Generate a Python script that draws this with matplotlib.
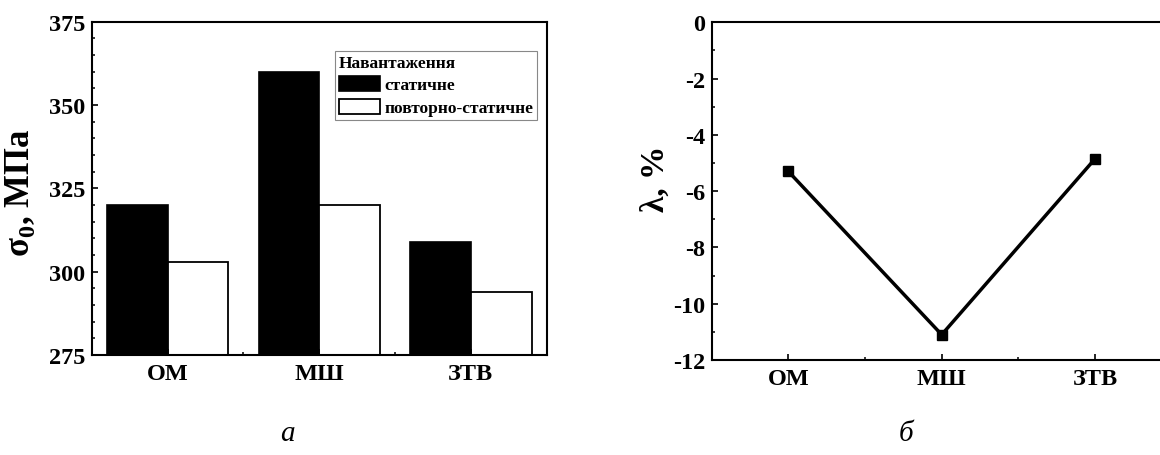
# -*- coding:utf-8 -*-
"""
Межа пружності при статичному та повторно-статичному навантаженні (а)
та відносна зміна lambda (б) для зон зварного з'єднання
"""

import matplotlib.pyplot as plt
import numpy as np
from matplotlib.ticker import MultipleLocator, FixedLocator

plt.rcParams['font.family'] = ['Liberation Serif', 'DejaVu Serif']
plt.rcParams['font.weight'] = 'bold'
plt.rcParams['axes.unicode_minus'] = False
plt.rcParams['mathtext.fontset'] = 'custom'
plt.rcParams['mathtext.rm'] = 'Liberation Serif:bold'
plt.rcParams['mathtext.bf'] = 'Liberation Serif:bold'

zones = ['ОМ', 'МШ', 'ЗТВ']
sigma_static = [320, 360, 309]
sigma_repeat = [303, 320, 294]
lam = [-5.3, -11.1, -4.85]

legend_title = 'Навантаження'
legend_labels = ['статичне', 'повторно-статичне']


def _style_axes(ax, **kwargs):
    tk_kwargs = dict(direction='in', length=4.5, width=1.2, labelsize=17.5, pad=4.5)
    tk_kwargs.update(kwargs)
    ax.tick_params(which='major', **tk_kwargs)
    ax.tick_params(which='minor', direction='in', length=2.5, width=1.1)
    ax.tick_params(axis='x', which='major', pad=6)
    for spine in ax.spines:
        ax.spines[spine].set_linewidth(1.5)
        ax.spines[spine].set_zorder(999)


def plot_bars(ax):
    x = np.arange(1, len(zones) + 1)
    ax.bar(x - 0.2, sigma_static, width=0.4, color='black', edgecolor='black', linewidth=1.2,
           label=legend_labels[0])
    ax.bar(x + 0.2, sigma_repeat, width=0.4, color='white', edgecolor='black', linewidth=1.3,
           label=legend_labels[1])
    ax.set_xlim(0.5, 3.5)
    ax.set_ylim(275, 375)
    ax.set_xticks(x)
    ax.set_xticklabels(zones)
    ax.xaxis.set_minor_locator(FixedLocator([1.5, 2.5]))
    ax.yaxis.set_major_locator(MultipleLocator(25))
    ax.yaxis.set_minor_locator(MultipleLocator(5))
    _style_axes(ax)
    ax.set_ylabel(r'σ$_\mathbf{0}$, МПа', fontsize=25, fontweight='bold')
    ax.yaxis.set_label_coords(-0.12, 0.49)

    leg = ax.legend(title=legend_title, loc='upper left', bbox_to_anchor=(0.535, 0.912),
                    fontsize=12.5, title_fontproperties=dict(size=12.5, weight='bold'),
                    frameon=True, fancybox=False, framealpha=1, edgecolor='#888888',
                    borderpad=0.2, labelspacing=0.3, handlelength=2.4, handleheight=1.0,
                    handletextpad=0.25, borderaxespad=0, alignment='left')
    leg.get_frame().set_linewidth(0.8)


def plot_line(ax):
    x = np.arange(1, len(zones) + 1)
    ax.plot(x, lam, color='black', linewidth=2.5, marker='s', markersize=7.5, zorder=5)
    ax.set_xlim(0.5, 3.5)
    ax.set_ylim(-12, 0)
    ax.set_xticks(x)
    ax.set_xticklabels(zones)
    ax.xaxis.set_minor_locator(FixedLocator([1.5, 2.5]))
    ax.yaxis.set_major_locator(MultipleLocator(2))
    ax.yaxis.set_minor_locator(MultipleLocator(1))
    _style_axes(ax)
    ax.set_ylabel('λ, %', fontsize=24, fontweight='bold')
    ax.yaxis.set_label_coords(-0.09, 0.54)


fig = plt.figure(figsize=(11.6, 4.56), dpi=100)
ax1 = fig.add_axes([91.7 / 1160, 100 / 456, 455 / 1160, 333.3 / 456])
ax2 = fig.add_axes([711.7 / 1160, 95 / 456, 460 / 1160, 337.7 / 456])
plot_bars(ax1)
plot_line(ax2)

fig.text(287 / 1160, 0.02, 'а', fontsize=21, style='italic', fontweight='normal', ha='center',
         va='bottom')
fig.text(906 / 1160, 0.02, 'б', fontsize=21, style='italic', fontweight='normal', ha='center',
         va='bottom')

fig.savefig('out.png', dpi=100)
